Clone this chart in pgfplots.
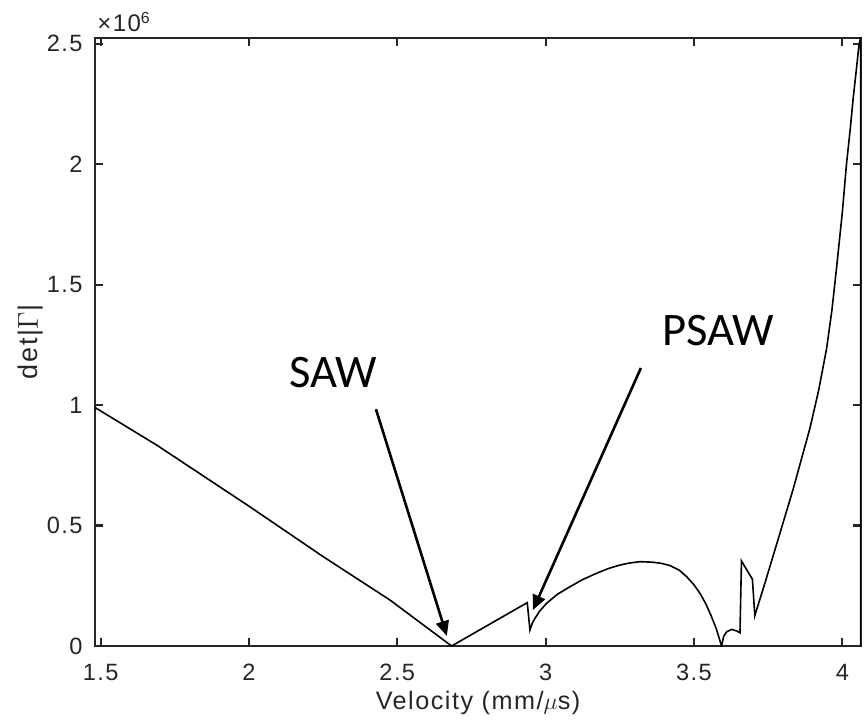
\documentclass[border=0pt]{standalone}
\usepackage{pgfplots}
\pgfplotsset{compat=1.18}
\usepackage{fontspec}
\setmainfont{Liberation Sans}[LetterSpace=6]
\newfontfamily\calloutfont{Carlito}
\usetikzlibrary{arrows.meta}

\definecolor{axisgray}{rgb}{0.15,0.15,0.15}

% det|Gamma| versus trial velocity
\pgfplotstableread{
x       y
1.481   990000
1.689   834000
2.003   578000
2.250   371000
2.475   191000
2.683   0
2.938   180000
2.947   66000
2.955   95000
2.964   115000
2.980   145000
3.003   177000
3.040   215000
3.082   246000
3.125   276000
3.172   302000
3.210   321000
3.250   336000
3.285   345000
3.318   350000
3.360   348000
3.390   343000
3.419   334000
3.450   315000
3.475   288000
3.500   254000
3.520   219000
3.540   175000
3.559   122000
3.575   72000
3.593   0
3.600   40000
3.610   59000
3.627   69000
3.645   62000
3.655   55000
3.660   353000
3.697   277000
3.705   126000
3.740   265000
3.778   420000
3.834   650000
3.891   905000
3.920   1060000
3.947   1235000
3.965   1395000
3.981   1575000
4.000   1800000
4.014   2000000
4.027   2150000
4.037   2279000
4.048   2400000
4.056   2494000
4.0615  2524000
4.0622  0
}\detdata

\begin{document}
\begin{tikzpicture}
\path[use as bounding box] (-47.5pt,-37.5pt) rectangle (385pt,323pt);
\begin{axis}[
  at={(0,0)}, anchor=south west,
  width=383pt, height=304pt,
  scale only axis,
  xmin=1.481, xmax=4.063,
  ymin=0, ymax=2524000,
  xtick={1.5,2,2.5,3,3.5,4},
  ytick={0,500000,1000000,1500000,2000000,2500000},
  scaled y ticks=base 10:-6,
  ytick scale label code/.code={},
  tick align=inside,
  major tick length=4pt,
  axis line style={axisgray, line width=1.1pt},
  every tick/.style={axisgray, line width=1.1pt},
  /pgf/number format/assume math mode=true,
  tick label style={font=\fontsize{11.8}{14}\selectfont, text=axisgray},
  yticklabel style={inner sep=0pt, xshift=-6pt},
  xticklabel style={inner sep=0pt, yshift=-9pt},
  xlabel={Velocity (mm/$\mu$s)},
  ylabel={det|$\Gamma$|},
  label style={text=axisgray},
  xlabel style={font=\fontsize{12.6}{15}\selectfont, at={(rel axis cs:0.5,0)}, anchor=base, yshift=-31.5pt, inner sep=0pt},
  ylabel style={font=\fontsize{13.5}{16}\selectfont, at={(rel axis cs:0,0.5)}, anchor=center, yshift=32pt, inner sep=0pt},
  clip mode=individual,
]
\addplot[black, line width=0.8pt, line join=miter] table[x=x, y=y] {\detdata};

\node[anchor=base west, inner sep=0pt, xshift=1pt, yshift=3pt,
      font=\fontsize{12}{14}\selectfont, text=axisgray]
  at (rel axis cs:0,1) {×10\textsuperscript{6}};

\node[font=\calloutfont\fontsize{23.3}{28}\selectfont] at (axis cs:2.283,1137000) {SAW};
\node[font=\calloutfont\fontsize{23.3}{28}\selectfont] at (axis cs:3.581,1311000) {PSAW};

\draw[-{Triangle[length=7.5pt,width=6.5pt]}, line width=1.3pt]
  (axis cs:2.428,983000) -- (axis cs:2.667,41500);
\draw[-{Triangle[length=7.5pt,width=6.5pt]}, line width=1.3pt]
  (axis cs:3.321,1154000) -- (axis cs:2.957,149000);
\end{axis}
\end{tikzpicture}
\end{document}
